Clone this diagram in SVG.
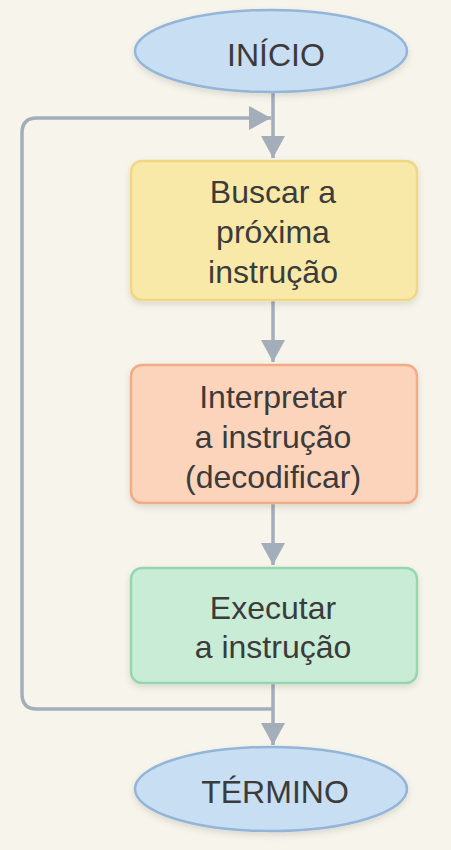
<svg xmlns="http://www.w3.org/2000/svg" width="451" height="850" viewBox="0 0 451 850">
  <defs>
    <style>
      .lbl { font-family: "Liberation Sans", Arial, sans-serif; font-size: 32px; fill: #3b3b3b; text-anchor: middle; }
      .conn { fill: none; stroke: #a4adba; stroke-width: 3.5; }
      .term { fill: #c8dff3; stroke: #93b5d8; stroke-width: 2.5; }
      .box { stroke-width: 2.5; }
    </style>
    <marker id="arr" markerUnits="userSpaceOnUse" markerWidth="24" markerHeight="24" refX="22" refY="12" orient="auto">
      <path d="M0,0 L22,12 L0,24 Z" fill="#a4adba"/>
    </marker>
    <filter id="sh" x="-10%" y="-10%" width="120%" height="130%">
      <feDropShadow dx="0" dy="3" stdDeviation="3" flood-color="#000" flood-opacity="0.12"/>
    </filter>
  </defs>
  <rect width="451" height="850" fill="#f7f5eb"/>

  <g id="connectors">
    <path class="conn" d="M273,92 V158" marker-end="url(#arr)"/>
    <path class="conn" d="M273,300 V362" marker-end="url(#arr)"/>
    <path class="conn" d="M273,503 V565" marker-end="url(#arr)"/>
    <path class="conn" d="M273,683 V745" marker-end="url(#arr)"/>
    <path class="conn" d="M273,709 H37 Q22,709 22,694 V133 Q22,118 37,118 H271" marker-end="url(#arr)"/>
  </g>

  <g id="inicio">
    <ellipse class="term" cx="271" cy="51" rx="136" ry="41" filter="url(#sh)"/>
    <text class="lbl" x="276" y="66">INÍCIO</text>
  </g>

  <g id="buscar">
    <rect class="box" x="131" y="161" width="286" height="139" rx="11" fill="#f8e9a9" stroke="#eed785" filter="url(#sh)"/>
    <text class="lbl" x="273" y="203">Buscar a</text>
    <text class="lbl" x="273" y="243">próxima</text>
    <text class="lbl" x="273" y="283">instrução</text>
  </g>

  <g id="interpretar">
    <rect class="box" x="131" y="365" width="286" height="138" rx="11" fill="#fbd4bb" stroke="#f1ab87" filter="url(#sh)"/>
    <text class="lbl" x="273" y="408">Interpretar</text>
    <text class="lbl" x="273" y="448">a instrução</text>
    <text class="lbl" x="273" y="488">(decodificar)</text>
  </g>

  <g id="executar">
    <rect class="box" x="131" y="568" width="286" height="115" rx="11" fill="#c9ecd6" stroke="#96d6af" filter="url(#sh)"/>
    <text class="lbl" x="273" y="619">Executar</text>
    <text class="lbl" x="273" y="658">a instrução</text>
  </g>

  <g id="termino">
    <ellipse class="term" cx="271" cy="789" rx="136" ry="42" filter="url(#sh)"/>
    <text class="lbl" x="275" y="803">TÉRMINO</text>
  </g>
</svg>
